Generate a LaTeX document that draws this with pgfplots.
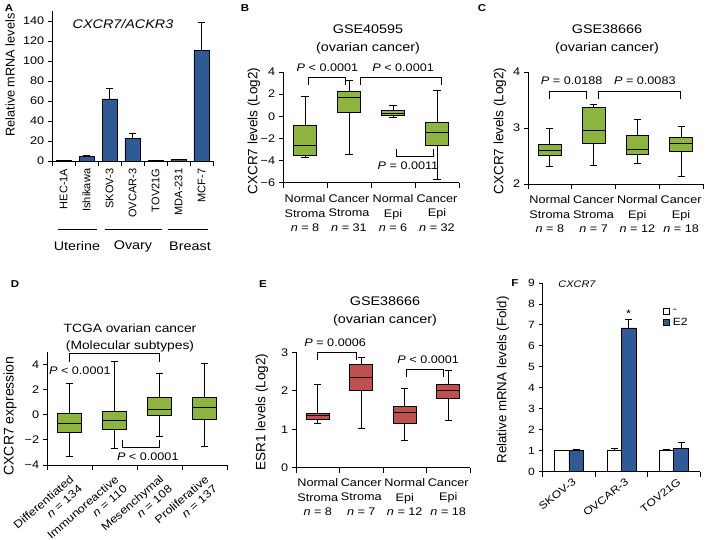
\documentclass[border=0pt]{standalone}
\usepackage{fontspec}
\setmainfont{Liberation Sans}[FakeStretch=1.15]
\newfontfamily\vfont{Liberation Sans}
\usepackage{pgfplots}
\pgfplotsset{compat=1.18}
\usepgfplotslibrary{statistics}
\definecolor{grn}{RGB}{141,180,62}
\definecolor{redb}{RGB}{192,80,77}
\definecolor{blu}{RGB}{47,90,150}
\newcommand\fa{\fontsize{11}{13}\selectfont}
\newcommand\fcat{\fontsize{11}{14.5}\selectfont}
\newcommand\ft{\fontsize{12.5}{18}\selectfont}
\newcommand\fp{\fontsize{11}{13}\selectfont}
\newcommand\fl{\fontsize{10}{12}\selectfont}
\newcommand\ff{\fontsize{10.5}{12}\selectfont}
\newcommand\fv[1]{\vfont\fontsize{#1}{#1}\selectfont}
\pgfplotsset{
 panel/.style={scale only axis, anchor=south west, clip=false,
   axis x line*=bottom, axis y line*=left,
   axis line style={line width=0.9pt},
   every tick/.style={black, line width=0.9pt},
   tick align=outside, major tick length=4pt, minor tick length=5pt,
   tick label style={font=\fa}},
 cat4/.style={xmin=-0.5, xmax=3.5, xtick={0,1,2,3}, major x tick style={draw=none},
   minor xtick={-0.5,0.5,1.5,2.5,3.5}},
 bx/.style={draw=black, line width=0.9pt},
 boxplot/draw direction=y,
}
\begin{document}
\fa
\begin{tikzpicture}
\path[use as bounding box] (0pt,0pt) rectangle (709pt,540pt);
% ---------------- Panel A
\begin{axis}[panel, at={(52pt,379pt)}, width=161pt, height=150pt,
 xmin=-0.5, xmax=6.5, ymin=0, ymax=150,
 ytick={0,20,...,140}, yticklabels={0,20,40,60,80,100,120,140},
 xtick={0,...,6}, xticklabels={HEC-1A,Ishikawa,SKOV-3,OVCAR-3,TOV21G,MDA-231,MCF-7},
 xticklabel style={rotate=90, anchor=east, font=\fv{11}},
 major x tick style={draw=none}, minor xtick={-0.5,0.5,...,6.5},
 ybar=0pt, bar width=15pt]
\addplot[fill=blu, draw=black, line width=0.5pt,
  error bars/.cd, y dir=plus, y explicit,
  error bar style={line width=0.9pt, black},
  error mark options={rotate=90, mark size=3.5pt, line width=0.9pt, black}]
 coordinates {(0,0.6) +- (0,0.1) (1,4.5) +- (0,1.5) (2,62) +- (0,10.5) (3,22.5) +- (0,5.5) (4,0.3) +- (0,0.1) (5,1.5) +- (0,0.3) (6,110.5) +- (0,28.5)};
\end{axis}
% ---------------- Panel B
\begin{axis}[panel, cat4, at={(283pt,357.3pt)}, width=176pt, height=110.7pt,
 ymin=-6, ymax=4, ytick={-6,-4,-2,0,2,4}, yticklabels={−6,−4,−2,0,2,4},
 xticklabels={{Normal\\Stroma\\\textit{n} = 8},{Cancer\\Stroma\\\textit{n} = 31},{Normal\\Epi\\\textit{n} = 6},{Cancer\\Epi\\\textit{n} = 32}},
 xticklabel style={align=center, font=\fcat, yshift=-4pt}]
\addplot[bx, fill=grn, boxplot prepared={draw position=0, lower whisker=-3.7, lower quartile=-3.58, median=-2.6, upper quartile=-0.8, upper whisker=1.79, box extend=0.52, whisker extend=0.16}] coordinates {};
\addplot[bx, fill=grn, boxplot prepared={draw position=1, lower whisker=-3.45, lower quartile=0.36, median=1.7, upper quartile=2.24, upper whisker=3.24, box extend=0.52, whisker extend=0.16}] coordinates {};
\addplot[bx, fill=grn, boxplot prepared={draw position=2, lower whisker=-0.09, lower quartile=0.05, median=0.28, upper quartile=0.5, upper whisker=1.0, box extend=0.52, whisker extend=0.16}] coordinates {};
\addplot[bx, fill=grn, boxplot prepared={draw position=3, lower whisker=-5.74, lower quartile=-2.65, median=-1.45, upper quartile=-0.55, upper whisker=2.33, box extend=0.52, whisker extend=0.16}] coordinates {};
\draw[line width=0.9pt] (axis cs:0.07,2.85) -- (axis cs:0.07,3.48) -- (axis cs:0.91,3.48) -- (axis cs:0.91,2.85);
\draw[line width=0.9pt] (axis cs:1.25,2.85) -- (axis cs:1.25,3.48) -- (axis cs:3.1,3.48) -- (axis cs:3.1,2.85);
\draw[line width=0.9pt] (axis cs:2.07,-2.98) -- (axis cs:2.07,-3.65) -- (axis cs:2.93,-3.65) -- (axis cs:2.93,-2.98);
\node[font=\fp] at (axis cs:0.51,4.42) {\textit{P} < 0.0001};
\node[font=\fp] at (axis cs:2.23,4.42) {\textit{P} < 0.0001};
\node[font=\fp] at (axis cs:2.34,-4.46) {\textit{P} = 0.0011};
\end{axis}
% ---------------- Panel C
\begin{axis}[panel, cat4, at={(528pt,356pt)}, width=175pt, height=112pt,
 ymin=2, ymax=4, ytick={2,3,4}, yticklabels={2,3,4},
 xticklabels={{Normal\\Stroma\\\textit{n} = 8},{Cancer\\Stroma\\\textit{n} = 7},{Normal\\Epi\\\textit{n} = 12},{Cancer\\Epi\\\textit{n} = 18}},
 xticklabel style={align=center, font=\fcat, yshift=-4pt}]
\addplot[bx, fill=grn, boxplot prepared={draw position=0, lower whisker=2.32, lower quartile=2.51, median=2.60, upper quartile=2.70, upper whisker=2.99, box extend=0.52, whisker extend=0.16}] coordinates {};
\addplot[bx, fill=grn, boxplot prepared={draw position=1, lower whisker=2.33, lower quartile=2.72, median=2.95, upper quartile=3.36, upper whisker=3.42, box extend=0.52, whisker extend=0.16}] coordinates {};
\addplot[bx, fill=grn, boxplot prepared={draw position=2, lower whisker=2.36, lower quartile=2.53, median=2.62, upper quartile=2.87, upper whisker=3.15, box extend=0.52, whisker extend=0.16}] coordinates {};
\addplot[bx, fill=grn, boxplot prepared={draw position=3, lower whisker=2.13, lower quartile=2.59, median=2.72, upper quartile=2.83, upper whisker=3.03, box extend=0.52, whisker extend=0.16}] coordinates {};
\draw[line width=0.9pt] (axis cs:0,3.52) -- (axis cs:0,3.66) -- (axis cs:0.84,3.66) -- (axis cs:0.84,3.52);
\draw[line width=0.9pt] (axis cs:1.11,3.52) -- (axis cs:1.11,3.66) -- (axis cs:2.99,3.66) -- (axis cs:2.99,3.52);
\node[font=\fp] at (axis cs:0.5,3.85) {\textit{P} = 0.0188};
\node[font=\fp] at (axis cs:2.17,3.85) {\textit{P} = 0.0083};
\end{axis}
% ---------------- Panel D
\begin{axis}[panel, cat4, at={(47pt,75pt)}, width=180pt, height=113pt,
 ymin=-4, ymax=5, ytick={-4,-2,0,2,4}, yticklabels={−4,−2,0,2,4},
 xticklabels={{Differentiated\\\textit{n} = 134},{Immunoreactive\\\textit{n} = 110},{Mesenchymal\\\textit{n} = 108},{Proliferative\\\textit{n} = 137}},
 xticklabel style={rotate=41, anchor=north east, align=right, font=\fa}]
\addplot[bx, fill=grn, boxplot prepared={draw position=0, lower whisker=-3.3, lower quartile=-1.4, median=-0.66, upper quartile=0.13, upper whisker=2.5, box extend=0.54, whisker extend=0.16}] coordinates {};
\addplot[bx, fill=grn, boxplot prepared={draw position=1, lower whisker=-2.67, lower quartile=-1.2, median=-0.45, upper quartile=0.24, upper whisker=4.24, box extend=0.54, whisker extend=0.16}] coordinates {};
\addplot[bx, fill=grn, boxplot prepared={draw position=2, lower whisker=-1.74, lower quartile=-0.03, median=0.45, upper quartile=1.4, upper whisker=3.33, box extend=0.54, whisker extend=0.16}] coordinates {};
\addplot[bx, fill=grn, boxplot prepared={draw position=3, lower whisker=-2.56, lower quartile=-0.35, median=0.56, upper quartile=1.4, upper whisker=4.08, box extend=0.54, whisker extend=0.16}] coordinates {};
\draw[line width=0.9pt] (axis cs:0,4.17) -- (axis cs:0,4.86) -- (axis cs:2,4.86) -- (axis cs:2,4.17);
\draw[line width=0.9pt] (axis cs:1.17,-1.99) -- (axis cs:1.17,-2.57) -- (axis cs:2,-2.57) -- (axis cs:2,-1.99);
\node[font=\fp] at (axis cs:0.23,3.53) {\textit{P} < 0.0001};
\node[font=\fp] at (axis cs:1.74,-3.32) {\textit{P} < 0.0001};
\end{axis}
% ---------------- Panel E
\begin{axis}[panel, cat4, at={(296pt,72.3pt)}, width=174pt, height=115.4pt,
 ymin=0, ymax=3, ytick={0,1,2,3}, yticklabels={0,1,2,3},
 xticklabels={{Normal\\Stroma\\\textit{n} = 8},{Cancer\\Stroma\\\textit{n} = 7},{Normal\\Epi\\\textit{n} = 12},{Cancer\\Epi\\\textit{n} = 18}},
 xticklabel style={align=center, font=\fcat, yshift=-3pt}]
\addplot[bx, fill=redb, boxplot prepared={draw position=0, lower whisker=1.14, lower quartile=1.26, median=1.35, upper quartile=1.41, upper whisker=2.17, box extend=0.52, whisker extend=0.16}] coordinates {};
\addplot[bx, fill=redb, boxplot prepared={draw position=1, lower whisker=1.03, lower quartile=2.0, median=2.35, upper quartile=2.69, upper whisker=2.86, box extend=0.52, whisker extend=0.16}] coordinates {};
\addplot[bx, fill=redb, boxplot prepared={draw position=2, lower whisker=0.70, lower quartile=1.14, median=1.44, upper quartile=1.6, upper whisker=2.07, box extend=0.52, whisker extend=0.16}] coordinates {};
\addplot[bx, fill=redb, boxplot prepared={draw position=3, lower whisker=1.22, lower quartile=1.80, median=2.02, upper quartile=2.17, upper whisker=2.54, box extend=0.52, whisker extend=0.16}] coordinates {};
\draw[line width=0.9pt] (axis cs:0,2.80) -- (axis cs:0,2.99) -- (axis cs:0.88,2.99) -- (axis cs:0.88,2.80);
\draw[line width=0.9pt] (axis cs:2.04,2.37) -- (axis cs:2.04,2.56) -- (axis cs:2.89,2.56) -- (axis cs:2.89,2.37);
\node[font=\fp] at (axis cs:0.4,3.25) {\textit{P} = 0.0006};
\node[font=\fp] at (axis cs:2.54,2.82) {\textit{P} < 0.0001};
\end{axis}
% ---------------- Panel F
\begin{axis}[panel, at={(542.7pt,68.3pt)}, width=157.3pt, height=188.7pt,
 xmin=-0.5, xmax=2.5, ymin=0, ymax=9, ytick={0,...,9}, yticklabels={0,1,2,3,4,5,6,7,8,9},
 xtick={0,1,2}, xticklabels={SKOV-3,OVCAR-3,TOV21G},
 major x tick style={draw=none}, minor xtick={-0.5,0.5,1.5,2.5},
 tick label style={font=\ff},
 xticklabel style={rotate=38, anchor=north east, font=\ff, xshift=5pt},
 ybar=0pt, bar width=14.5pt,
 legend style={draw=none, fill=none, at={(0.765,0.87)}, anchor=north west, font=\ff, inner sep=0pt, row sep=3pt,
   nodes={inner xsep=3pt, inner ysep=0pt}},
 legend cell align=left]
\addplot[fill=white, draw=black, line width=0.6pt,
  legend image code/.code={\draw[fill=white,draw=black,line width=0.6pt] (0pt,-3.3pt) rectangle (6pt,3.3pt);},
  error bars/.cd, y dir=plus, y explicit,
  error bar style={line width=0.9pt, black},
  error mark options={rotate=90, mark size=3.5pt, line width=0.9pt, black}]
 coordinates {(0,1) +- (0,0.02) (1,1) +- (0,0.1) (2,1) +- (0,0.05)};
\addplot[fill=blu, draw=black, line width=0.6pt,
  legend image code/.code={\draw[fill=blu,draw=black,line width=0.6pt] (0pt,-3.3pt) rectangle (6pt,3.3pt);},
  error bars/.cd, y dir=plus, y explicit,
  error bar style={line width=0.9pt, black},
  error mark options={rotate=90, mark size=3.5pt, line width=0.9pt, black}]
 coordinates {(0,1.0) +- (0,0.05) (1,6.86) +- (0,0.4) (2,1.12) +- (0,0.29)};
\legend{-,E2}
\node[font=\fa] at (axis cs:1.14,7.55) {*};
\end{axis}
% ---------------- Texts
\node[font=\bfseries\fl] at (9pt,532pt) {A};
\node[font=\bfseries\fl] at (245pt,532pt) {B};
\node[font=\bfseries\fl] at (482pt,532pt) {C};
\node[font=\bfseries\fl] at (15pt,256pt) {D};
\node[font=\bfseries\fl] at (263pt,256pt) {E};
\node[font=\bfseries\fl] at (515pt,257pt) {F};
\node[font=\itshape\fontsize{12.5}{14}\selectfont] at (123pt,516pt) {CXCR7/ACKR3};
\node[rotate=90,font=\fv{12.7}] at (10pt,465pt) {Relative mRNA levels};
\draw[line width=0.9pt] (58pt,311pt)--(97pt,311pt) (105pt,311pt)--(162pt,311pt) (168pt,311pt)--(208pt,311pt);
\node[font=\fontsize{12.5}{14}\selectfont] at (77pt,294pt) {Uterine};
\node[font=\fontsize{12.5}{14}\selectfont] at (133pt,294pt) {Ovary};
\node[font=\fontsize{12.5}{14}\selectfont] at (190pt,294pt) {Breast};
\node[align=center,font=\ft] at (368pt,501pt) {GSE40595\\(ovarian cancer)};
\node[rotate=90,font=\fv{13.5}] at (254pt,409pt) {CXCR7 levels (Log2)};
\node[align=center,font=\ft] at (607pt,501pt) {GSE38666\\(ovarian cancer)};
\node[rotate=90,font=\fv{13.5}] at (500pt,409pt) {CXCR7 levels (Log2)};
\node[align=center,font=\fontsize{12}{17}\selectfont] at (130pt,202pt) {TCGA ovarian cancer\\(Molecular subtypes)};
\node[rotate=90,font=\fv{14}] at (10pt,124pt) {CXCR7 expression};
\node[align=center,font=\ft] at (385pt,229pt) {GSE38666\\(ovarian cancer)};
\node[rotate=90,font=\fv{13.5}] at (262pt,128pt) {ESR1 levels (Log2)};
\node[font=\itshape\fontsize{9.5}{11}\selectfont] at (577pt,256pt) {CXCR7};
\node[rotate=90,font=\fv{13.3}] at (503pt,160pt) {Relative mRNA levels (Fold)};
\end{tikzpicture}
\end{document}
